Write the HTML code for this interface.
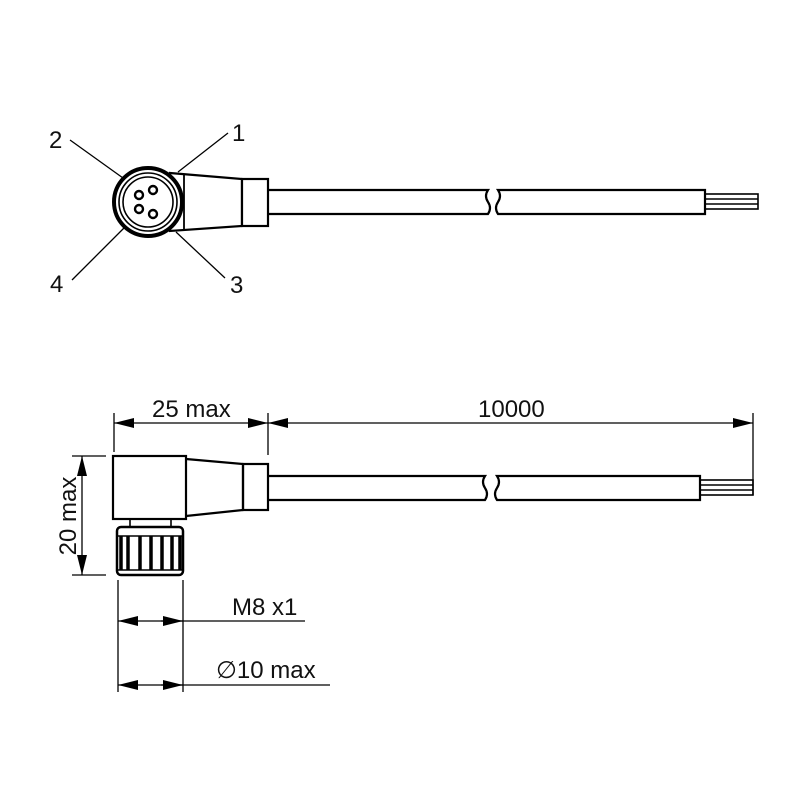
<!DOCTYPE html>
<html><head><meta charset="utf-8"><style>
html,body{margin:0;padding:0;background:#fff;}
svg{display:block}
text{font-family:"Liberation Sans",sans-serif;fill:#111}
</style></head><body>
<svg width="800" height="800" viewBox="0 0 800 800" xmlns="http://www.w3.org/2000/svg">
<defs>
<marker id="a" viewBox="0 0 20 10" refX="20" refY="5" markerWidth="20" markerHeight="10" markerUnits="userSpaceOnUse" orient="auto-start-reverse"><path d="M0,0 L20,5 L0,10 z" fill="#000"/></marker>
</defs>
<g stroke="#000" fill="none" stroke-width="2.2">
<!-- TOP VIEW -->
<path d="M170,173 L242,179 L242,226 L170,231 z" fill="#fff"/>
<rect x="242" y="179" width="26" height="47" fill="#fff"/>
<path d="M268,190 L488,190 q-4,6 0,12 q4,6 0,12 L268,214"/>
<path d="M498,190 L705,190 L705,214 L498,214 q-4,-6 0,-12 q4,-6 0,-12z"/>
<g stroke-width="1.6"><rect x="705" y="194" width="53" height="15"/><line x1="705" y1="199" x2="758" y2="199"/><line x1="705" y1="204" x2="758" y2="204"/></g>
<circle cx="148" cy="202" r="34" stroke-width="4" fill="#fff"/>
<line x1="184" y1="175" x2="184" y2="229" stroke-width="1.8"/>
<circle cx="148" cy="202" r="29" stroke-width="1.6"/>
<circle cx="148" cy="202" r="25" stroke-width="1.6"/>
<circle cx="139" cy="195" r="4" stroke-width="2.4"/>
<circle cx="153" cy="190" r="4" stroke-width="2.4"/>
<circle cx="139" cy="209" r="4" stroke-width="2.4"/>
<circle cx="153" cy="214" r="4" stroke-width="2.4"/>
<g stroke-width="1.3">
<line x1="70" y1="140" x2="123" y2="178"/>
<line x1="228" y1="133" x2="178" y2="172"/>
<line x1="72" y1="280" x2="124" y2="228"/>
<line x1="225" y1="278" x2="176" y2="232"/>
</g>
<!-- SIDE VIEW -->
<rect x="113" y="456" width="73" height="63" fill="#fff"/>
<path d="M186,459 L243,464 L243,510 L186,516"/>
<rect x="243" y="464" width="25" height="46"/>
<path d="M268,476 L485,476 q-4,6 0,12 q4,6 0,12 L268,500"/>
<path d="M497,476 L700,476 L700,500 L497,500 q-4,-6 0,-12 q4,-6 0,-12z"/>
<g stroke-width="1.6"><rect x="700" y="480" width="53" height="15"/><line x1="700" y1="485" x2="753" y2="485"/><line x1="700" y1="490" x2="753" y2="490"/></g>
<rect x="130" y="519" width="41" height="8" stroke-width="1.6"/>
<rect x="117" y="527" width="66" height="48" rx="4" stroke-width="2.5"/>
<line x1="117" y1="536" x2="183" y2="536" stroke-width="1.6"/>
<line x1="117" y1="570" x2="183" y2="570" stroke-width="1.6"/>
<g stroke-width="3.5"><line x1="121" y1="536" x2="121" y2="570"/><line x1="128" y1="536" x2="128" y2="570"/><line x1="140" y1="536" x2="140" y2="570"/><line x1="151" y1="536" x2="151" y2="570"/><line x1="162" y1="536" x2="162" y2="570"/><line x1="172" y1="536" x2="172" y2="570"/><line x1="180" y1="536" x2="180" y2="570"/></g>
<!-- dims -->
<g stroke-width="1.3">
<line x1="114" y1="413" x2="114" y2="452"/>
<line x1="268" y1="413" x2="268" y2="455"/>
<line x1="753" y1="413" x2="753" y2="495"/>
<line x1="114" y1="423" x2="268" y2="423" marker-start="url(#a)" marker-end="url(#a)"/>
<line x1="268" y1="423" x2="753" y2="423" marker-start="url(#a)" marker-end="url(#a)"/>
<line x1="72" y1="456" x2="106" y2="456"/>
<line x1="72" y1="575" x2="106" y2="575"/>
<line x1="82" y1="456" x2="82" y2="575" marker-start="url(#a)" marker-end="url(#a)"/>
<line x1="118" y1="580" x2="118" y2="692"/>
<line x1="183" y1="580" x2="183" y2="692"/>
<line x1="118" y1="621" x2="140" y2="621" marker-start="url(#a)"/>
<line x1="140" y1="621" x2="305" y2="621"/>
<line x1="161" y1="621" x2="183" y2="621" marker-end="url(#a)"/>
<line x1="118" y1="685" x2="140" y2="685" marker-start="url(#a)"/>
<line x1="140" y1="685" x2="330" y2="685"/>
<line x1="161" y1="685" x2="183" y2="685" marker-end="url(#a)"/>
</g>
</g>
<g font-size="24">
<text x="49" y="148">2</text>
<text x="232" y="141">1</text>
<text x="50" y="292">4</text>
<text x="230" y="293">3</text>
<text x="152" y="417">25 max</text>
<text x="478" y="417">10000</text>
<text x="232" y="615">M8 x1</text>
<text x="216" y="678">∅10 max</text>
<text transform="translate(76,516) rotate(-90)" text-anchor="middle">20 max</text>
</g>
</svg>
</body></html>
